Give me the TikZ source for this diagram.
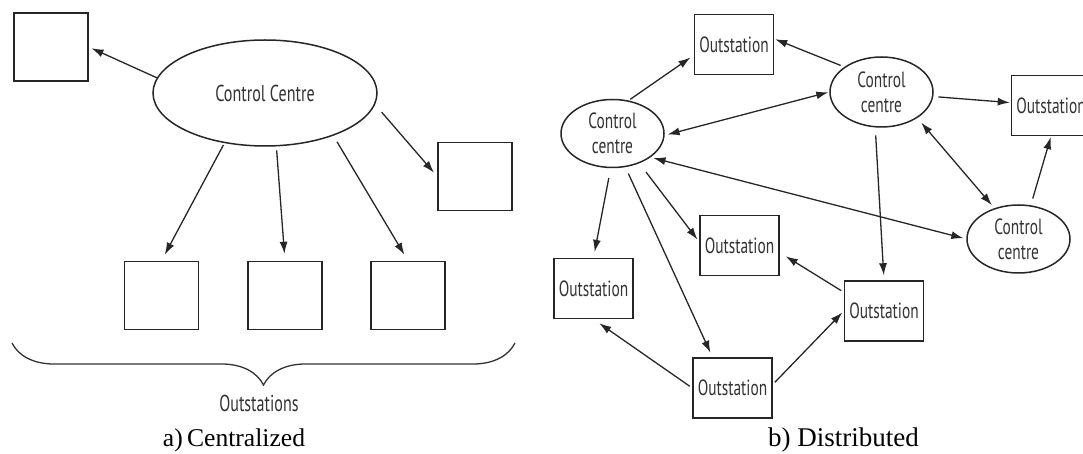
\documentclass[tikz,border=0pt]{standalone}
\usepackage{fontspec}
\setmainfont{Liberation Serif}
\newfontfamily\labelfont[FakeStretch=0.7]{PT Sans}
\usetikzlibrary{shapes.geometric,arrows.meta,decorations.pathreplacing}

\begin{document}
\begin{tikzpicture}[x=0.5pt,y=-0.5pt]

\def\boxw{39.5pt}
\def\boxh{30pt}
\def\lboxw{37pt}
\def\lboxh{34pt}

\tikzset{station/.style = {draw=black!85, line width=0.75pt, rectangle, minimum width=\boxw, minimum height=\boxh, inner sep=0pt, text=black!80, font=\labelfont\fontsize{11}{12.5}\selectfont}}
\tikzset{ctrl/.style = {draw=black!85, line width=0.75pt, ellipse, inner sep=0pt, align=center, minimum width=51.5pt, minimum height=34pt, text=black!80, font=\labelfont\fontsize{11}{12.5}\selectfont}}
\tikzset{link/.style = {-{Latex[length=6pt,width=4pt]}, draw=black!85, line width=0.65pt}}
\tikzset{dlink/.style = {{Latex[length=6pt,width=4pt]}-{Latex[length=6pt,width=4pt]}, draw=black!85, line width=0.65pt}}
\tikzset{caption/.style = {inner sep=0pt, font=\fontsize{13.5}{16}\selectfont}}

\useasboundingbox (0,0) rectangle (1083,454);
\clip (0,0) rectangle (1083,454);

% a) centralized
\node[ctrl, minimum width=112pt, minimum height=53pt, font=\labelfont\fontsize{11.5}{13}\selectfont] (CC) at (265,93) {Control Centre};

\node[station, minimum width=\lboxw, minimum height=\lboxh] (S1) at (51,47) {};
\node[station, minimum width=\lboxw, minimum height=\lboxh] (S2) at (475,176.5) {};
\node[station, minimum width=\lboxw, minimum height=\lboxh] (S3) at (161.5,295.5) {};
\node[station, minimum width=\lboxw, minimum height=\lboxh] (S4) at (285,295.5) {};
\node[station, minimum width=\lboxw, minimum height=\lboxh] (S5) at (408,295.5) {};

\draw[link, shorten >=1.5pt] (CC.172) -- (S1.east);
\draw[link, shorten <=5pt, shorten >=2.5pt] (CC.-6) -- (S2.west);
\draw[link, shorten <=1pt, shorten >=3.5pt] (CC.231) -- (S3.north);
\draw[link, shorten <=2pt, shorten >=3.5pt] (CC.282) -- (S4.north);
\draw[link, shorten <=3.5pt, shorten >=3.5pt] (CC.-32) -- (S5.north);

\coordinate (BR) at (515,343);
\coordinate (BL) at (12,343);
\draw[decorate, decoration={brace, amplitude=21pt}, draw=black!80, line width=0.65pt] (BR) -- (BL);
\node[text=black!80, font=\labelfont\fontsize{11.5}{13}\selectfont] (OS) at (259,403) {Outstations};

\node[caption, font=\fontsize{12.8}{16}\selectfont] (CapA) at (234,440) {a)\,Centralized};

% b) distributed
\node[ctrl] (C1) at (612.5,133.5) {Control\\centre};
\node[ctrl, minimum height=35pt] (C2) at (881.5,92) {Control\\centre};
\node[ctrl] (C3) at (1018.5,239) {Control\\centre};

\node[station] (T) at (734,44.5) {Outstation};
\node[station] (R) at (1051,105.5) {Outstation};
\node[station] (M) at (739.5,245.5) {Outstation};
\node[station] (L) at (593.5,288.5) {Outstation};
\node[station] (B2) at (884,311) {Outstation};
\node[station] (Bt) at (732.5,388) {Outstation};

\draw[link, shorten <=1pt, shorten >=2pt] (C1.64) -- (T.195);
\draw[link, shorten <=2pt, shorten >=0.5pt] (C2.146) -- (T.8);
\draw[dlink, shorten <=1.5pt, shorten >=0.5pt] (C1.-2) -- (C2.180);
\draw[link, shorten <=2.5pt, shorten >=0.5pt] (C2.-5) -- (R.176);
\draw[dlink, shorten <=3pt, shorten >=2pt] (C2.-36) -- (C3.128);
\draw[link, shorten <=3.5pt, shorten >=0.5pt] (C3.70) -- (R.south);
\draw[dlink, shorten <=1.5pt, shorten >=1.5pt] (C1.-32) -- (C3.180);
\draw[link, shorten <=4pt, shorten >=2.5pt] (C2.260) -- (B2.north);
\draw[link, shorten <=5pt, shorten >=3pt] (C1.267) -- (L.north);
\draw[link, shorten <=3.5pt, shorten >=2.5pt] (C1.-69) -- (Bt.123);
\draw[link, shorten <=5.5pt, shorten >=1.5pt] (C1.-48) -- (M.175);
\draw[link, shorten <=1.5pt, shorten >=3.5pt] (B2.155) -- (M.-10);
\draw[link, shorten <=1.5pt, shorten >=3.5pt] (Bt.west) -- (L.south);
\draw[link, shorten <=1.5pt, shorten >=1pt] (Bt.5) -- (B2.west);

\node[caption] (CapB) at (843.5,440) {b) Distributed};

\end{tikzpicture}
\end{document}
